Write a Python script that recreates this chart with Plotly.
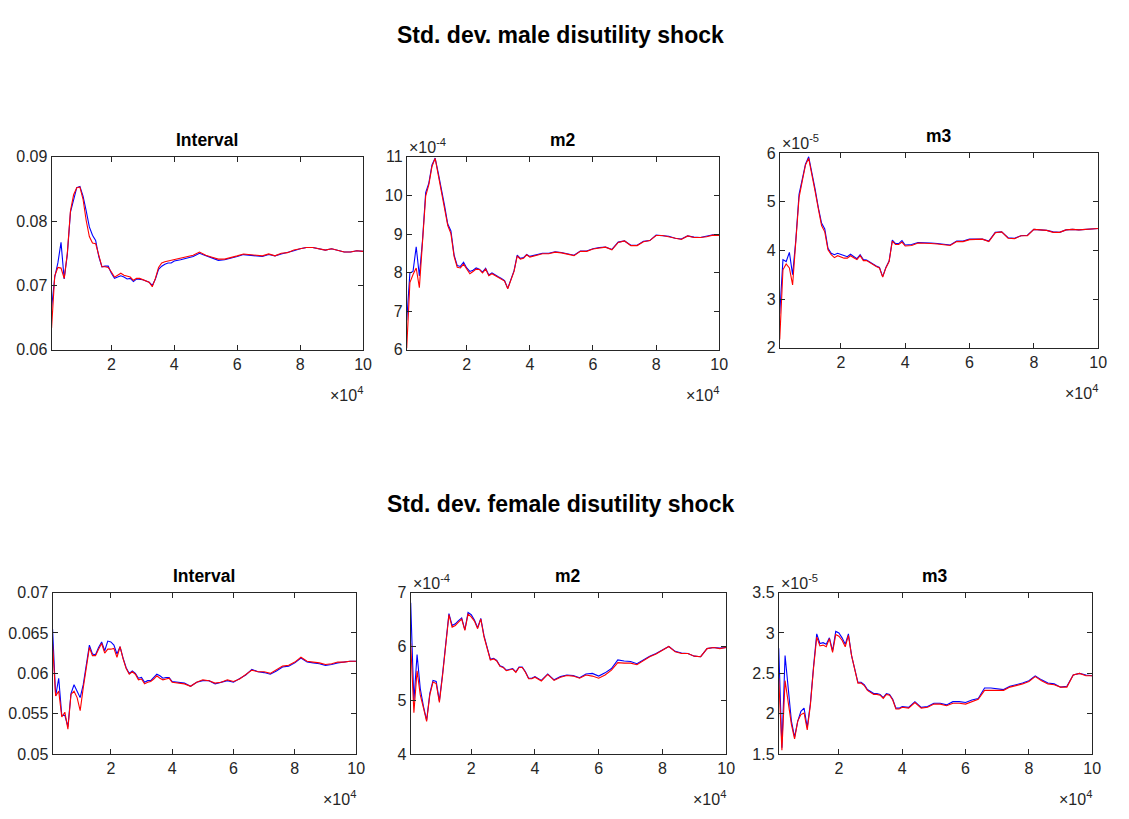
import plotly.graph_objects as go

# ---------------- data ----------------
X = list(range(1000, 40001, 1000)) + list(range(42000, 100001, 2000))
X_TICKVALS = [20000, 40000, 60000, 80000, 100000]
X_TICKTEXT = ["2", "4", "6", "8", "10"]

MAIN_TITLES = ["Std. dev. male disutility shock", "Std. dev. female disutility shock"]
PANEL_TITLES = ["Interval", "m2", "m3", "Interval", "m2", "m3"]

# Male, Interval
male_interval_blue = [
    0.0665, 0.0713, 0.0735, 0.0767, 0.0710, 0.0748, 0.0814, 0.0831, 0.0852, 0.0854,
    0.0839, 0.0816, 0.0791, 0.0778, 0.0770, 0.0745, 0.0729, 0.0730, 0.0730, 0.0719,
    0.0711, 0.0713, 0.0715, 0.0713, 0.0710, 0.0711, 0.0706, 0.0710, 0.0710, 0.0709,
    0.0707, 0.0705, 0.0700, 0.0710, 0.0725, 0.0730, 0.0733, 0.0735, 0.0735, 0.0738,
    0.0740, 0.0743, 0.0745, 0.0750, 0.0746, 0.0743, 0.0739, 0.0740, 0.0742, 0.0745,
    0.0748, 0.0747, 0.0747, 0.0745, 0.0748, 0.0746, 0.0749, 0.0751, 0.0754, 0.0757,
    0.0759, 0.0759, 0.0757, 0.0755, 0.0757, 0.0754, 0.0752, 0.0752, 0.0754, 0.0753]
male_interval_red = [
    0.0634, 0.0715, 0.0728, 0.0727, 0.0711, 0.0750, 0.0816, 0.0841, 0.0852, 0.0853,
    0.0834, 0.0801, 0.0776, 0.0766, 0.0765, 0.0745, 0.0729, 0.0729, 0.0728, 0.0721,
    0.0713, 0.0716, 0.0719, 0.0716, 0.0714, 0.0713, 0.0708, 0.0711, 0.0711, 0.0709,
    0.0707, 0.0705, 0.0698, 0.0711, 0.0728, 0.0735, 0.0737, 0.0738, 0.0739, 0.0740,
    0.0742, 0.0745, 0.0747, 0.0752, 0.0747, 0.0744, 0.0741, 0.0741, 0.0743, 0.0746,
    0.0749, 0.0748, 0.0747, 0.0746, 0.0749, 0.0746, 0.0750, 0.0751, 0.0755, 0.0757,
    0.0759, 0.0759, 0.0757, 0.0755, 0.0757, 0.0754, 0.0752, 0.0752, 0.0754, 0.0753]

# Male, m2 (units of 1e-4)
male_m2_blue = [
    6.76, 7.99, 8.03, 8.67, 7.91, 8.84, 10.07, 10.32, 10.79, 10.97,
    10.58, 10.19, 9.73, 9.26, 9.08, 8.46, 8.18, 8.16, 8.27, 8.12,
    8.03, 8.06, 8.12, 8.09, 8.01, 8.11, 7.94, 7.99, 7.93, 7.89,
    7.85, 7.79, 7.59, 7.83, 8.05, 8.45, 8.37, 8.39, 8.47, 8.42,
    8.45, 8.50, 8.50, 8.54, 8.52, 8.48, 8.45, 8.56, 8.56, 8.62,
    8.65, 8.66, 8.60, 8.79, 8.82, 8.71, 8.71, 8.81, 8.83, 8.97,
    8.96, 8.94, 8.89, 8.87, 8.95, 8.92, 8.91, 8.94, 8.98, 8.97]
male_m2_red = [
    6.04, 7.74, 7.95, 8.12, 7.61, 8.67, 9.98, 10.28, 10.75, 10.96,
    10.53, 10.11, 9.69, 9.22, 9.01, 8.42, 8.14, 8.12, 8.22, 8.08,
    7.97, 8.03, 8.09, 8.08, 7.99, 8.09, 7.92, 7.97, 7.92, 7.88,
    7.84, 7.78, 7.58, 7.82, 8.03, 8.43, 8.35, 8.37, 8.46, 8.40,
    8.44, 8.49, 8.49, 8.53, 8.51, 8.47, 8.44, 8.55, 8.55, 8.61,
    8.64, 8.66, 8.59, 8.78, 8.82, 8.70, 8.70, 8.80, 8.83, 8.96,
    8.96, 8.93, 8.88, 8.86, 8.95, 8.91, 8.91, 8.93, 8.97, 8.96]

# Male, m3 (units of 1e-5)
male_m3_blue = [
    2.70, 3.81, 3.77, 3.96, 3.50, 4.21, 5.15, 5.45, 5.77, 5.92,
    5.62, 5.26, 4.88, 4.56, 4.44, 4.04, 3.94, 3.91, 3.94, 3.92,
    3.89, 3.87, 3.92, 3.87, 3.83, 3.91, 3.81, 3.80, 3.76, 3.71,
    3.68, 3.65, 3.46, 3.65, 3.78, 4.21, 4.14, 4.14, 4.20, 4.11,
    4.12, 4.16, 4.16, 4.15, 4.14, 4.12, 4.11, 4.19, 4.19, 4.23,
    4.23, 4.23, 4.19, 4.37, 4.38, 4.26, 4.25, 4.30, 4.31, 4.43,
    4.42, 4.41, 4.38, 4.37, 4.42, 4.43, 4.42, 4.43, 4.45, 4.45]
male_m3_red = [
    2.17, 3.60, 3.72, 3.64, 3.29, 4.11, 5.08, 5.42, 5.75, 5.89,
    5.58, 5.21, 4.85, 4.51, 4.38, 4.01, 3.91, 3.85, 3.89, 3.87,
    3.84, 3.84, 3.89, 3.85, 3.81, 3.89, 3.79, 3.79, 3.75, 3.70,
    3.67, 3.64, 3.45, 3.64, 3.77, 4.19, 4.12, 4.12, 4.17, 4.09,
    4.10, 4.15, 4.15, 4.14, 4.13, 4.11, 4.10, 4.18, 4.18, 4.22,
    4.22, 4.23, 4.18, 4.36, 4.38, 4.25, 4.24, 4.30, 4.30, 4.43,
    4.42, 4.41, 4.37, 4.37, 4.42, 4.43, 4.42, 4.43, 4.45, 4.45]

# Female, Interval
female_interval_blue = [
    0.0655, 0.0572, 0.0594, 0.0548, 0.0548, 0.0534, 0.0575, 0.0586, 0.0578, 0.0570,
    0.0586, 0.0612, 0.0635, 0.0624, 0.0623, 0.0632, 0.0639, 0.0628, 0.0640, 0.0639,
    0.0635, 0.0624, 0.0633, 0.0619, 0.0607, 0.0600, 0.0603, 0.0600, 0.0594, 0.0595,
    0.0589, 0.0591, 0.0591, 0.0595, 0.0599, 0.0597, 0.0594, 0.0595, 0.0595, 0.0590,
    0.0589, 0.0588, 0.0584, 0.0589, 0.0591, 0.0591, 0.0587, 0.0589, 0.0591, 0.0589,
    0.0593, 0.0598, 0.0605, 0.0602, 0.0601, 0.0599, 0.0603, 0.0608, 0.0609, 0.0613,
    0.0619, 0.0614, 0.0613, 0.0612, 0.0610, 0.0611, 0.0613, 0.0614, 0.0615, 0.0615]
female_interval_red = [
    0.0636, 0.0572, 0.0578, 0.0546, 0.0552, 0.0531, 0.0574, 0.0578, 0.0570, 0.0554,
    0.0582, 0.0610, 0.0632, 0.0622, 0.0622, 0.0630, 0.0637, 0.0625, 0.0630, 0.0630,
    0.0631, 0.0620, 0.0633, 0.0618, 0.0606, 0.0599, 0.0602, 0.0599, 0.0592, 0.0593,
    0.0587, 0.0589, 0.0590, 0.0593, 0.0597, 0.0594, 0.0592, 0.0593, 0.0594, 0.0589,
    0.0588, 0.0587, 0.0584, 0.0589, 0.0592, 0.0591, 0.0588, 0.0589, 0.0592, 0.0590,
    0.0593, 0.0598, 0.0604, 0.0602, 0.0602, 0.0600, 0.0604, 0.0609, 0.0610, 0.0614,
    0.0620, 0.0615, 0.0614, 0.0613, 0.0611, 0.0612, 0.0614, 0.0614, 0.0615, 0.0615]

# Female, m2 (units of 1e-4)
female_m2_blue = [
    6.81, 4.98, 5.85, 5.22, 4.89, 4.63, 5.13, 5.37, 5.35, 4.99,
    5.49, 6.09, 6.61, 6.39, 6.42, 6.48, 6.53, 6.31, 6.63, 6.59,
    6.49, 6.35, 6.52, 6.20, 5.96, 5.76, 5.78, 5.74, 5.64, 5.62,
    5.56, 5.58, 5.59, 5.53, 5.62, 5.62, 5.53, 5.41, 5.41, 5.44,
    5.37, 5.49, 5.38, 5.44, 5.47, 5.46, 5.42, 5.49, 5.50, 5.45,
    5.51, 5.59, 5.75, 5.73, 5.72, 5.68, 5.75, 5.82, 5.87, 5.94,
    6.00, 5.91, 5.88, 5.87, 5.82, 5.81, 5.96, 5.98, 5.97, 5.98]
female_m2_red = [
    6.06, 4.77, 5.55, 5.10, 4.86, 4.61, 5.10, 5.34, 5.31, 4.96,
    5.46, 6.06, 6.59, 6.36, 6.39, 6.45, 6.51, 6.30, 6.60, 6.55,
    6.47, 6.33, 6.51, 6.18, 5.95, 5.75, 5.77, 5.73, 5.63, 5.61,
    5.55, 5.57, 5.58, 5.52, 5.61, 5.61, 5.52, 5.40, 5.40, 5.43,
    5.36, 5.48, 5.37, 5.43, 5.46, 5.45, 5.41, 5.47, 5.45, 5.41,
    5.47, 5.56, 5.70, 5.69, 5.69, 5.66, 5.73, 5.81, 5.86, 5.93,
    6.00, 5.90, 5.87, 5.87, 5.82, 5.81, 5.96, 5.98, 5.96, 5.98]

# Female, m3 (units of 1e-5)
female_m3_blue = [
    2.81, 1.58, 2.72, 2.31, 1.91, 1.71, 1.91, 2.03, 2.07, 1.83,
    2.13, 2.59, 2.99, 2.87, 2.88, 2.86, 2.94, 2.78, 3.02, 3.00,
    2.94, 2.86, 2.99, 2.72, 2.56, 2.39, 2.39, 2.36, 2.30, 2.27,
    2.25, 2.25, 2.24, 2.20, 2.25, 2.24, 2.18, 2.07, 2.07, 2.09,
    2.08, 2.15, 2.08, 2.09, 2.13, 2.13, 2.11, 2.15, 2.15, 2.14,
    2.17, 2.19, 2.32, 2.32, 2.31, 2.30, 2.34, 2.36, 2.38, 2.41,
    2.47, 2.42, 2.38, 2.37, 2.33, 2.34, 2.48, 2.50, 2.48, 2.47]
female_m3_red = [
    2.44, 1.55, 2.41, 2.13, 1.87, 1.69, 1.91, 1.99, 2.01, 1.80,
    2.11, 2.57, 2.95, 2.84, 2.85, 2.83, 2.93, 2.76, 2.98, 2.96,
    2.91, 2.83, 2.97, 2.72, 2.55, 2.38, 2.38, 2.35, 2.29, 2.26,
    2.24, 2.24, 2.23, 2.19, 2.24, 2.23, 2.17, 2.06, 2.06, 2.08,
    2.07, 2.14, 2.07, 2.08, 2.12, 2.12, 2.10, 2.13, 2.13, 2.12,
    2.15, 2.18, 2.29, 2.29, 2.29, 2.29, 2.33, 2.35, 2.37, 2.40,
    2.46, 2.41, 2.37, 2.36, 2.33, 2.33, 2.48, 2.50, 2.47, 2.47]

# y-axis ticks per panel
Y_TICKS = [
    [0.06, 0.07, 0.08, 0.09],
    [6, 7, 8, 9, 10, 11],
    [2, 3, 4, 5, 6],
    [0.05, 0.055, 0.06, 0.065, 0.07],
    [4, 5, 6, 7],
    [1.5, 2, 2.5, 3, 3.5],
]
Y_TICKTEXT = [
    ["0.06", "0.07", "0.08", "0.09"],
    ["6", "7", "8", "9", "10", "11"],
    ["2", "3", "4", "5", "6"],
    ["0.05", "0.055", "0.06", "0.065", "0.07"],
    ["4", "5", "6", "7"],
    ["1.5", "2", "2.5", "3", "3.5"],
]
Y_EXPONENT = [None, "-4", "-5", None, "-4", "-5"]

SERIES = [
    (male_interval_blue, male_interval_red),
    (male_m2_blue, male_m2_red),
    (male_m3_blue, male_m3_red),
    (female_interval_blue, female_interval_red),
    (female_m2_blue, female_m2_red),
    (female_m3_blue, female_m3_red),
]

# ---------------- layout geometry (pixels) ----------------
W, H = 1129, 819
BOXES = [  # left, right, top, bottom
    (52, 366, 152, 349),
    (410, 725, 152, 349),
    (786, 1107, 148, 347),
    (53, 359, 597, 762),
    (414, 732, 597, 762),
    (785, 1101, 597, 762),
]

def px_x(p):
    return p / W

def px_y(p):
    return 1 - p / H

FONT = "Liberation Sans, Arial, Helvetica, sans-serif"
AX_COLOR = "#262626"
TICK_SIZE = 16

fig = go.Figure()
layout = dict(
    width=W, height=H,
    margin=dict(l=0, r=0, t=0, b=0),
    paper_bgcolor="white", plot_bgcolor="white",
    showlegend=False,
    font=dict(family=FONT, size=TICK_SIZE, color=AX_COLOR),
)
annotations = []

for i, ((blue, red), box) in enumerate(zip(SERIES, BOXES)):
    n = i + 1
    xa = "x" if n == 1 else f"x{n}"
    ya = "y" if n == 1 else f"y{n}"
    fig.add_trace(go.Scatter(x=X, y=blue, mode="lines", xaxis=xa, yaxis=ya,
                             line=dict(color="#0000ff", width=1.1)))
    fig.add_trace(go.Scatter(x=X, y=red, mode="lines", xaxis=xa, yaxis=ya,
                             line=dict(color="#ff0000", width=1.1)))
    l, r, t, b = box
    common = dict(showline=True, linecolor=AX_COLOR, linewidth=1, mirror="ticks",
                  ticks="inside", ticklen=5, tickcolor=AX_COLOR, tickwidth=1,
                  showgrid=False, zeroline=False,
                  tickfont=dict(family=FONT, size=TICK_SIZE, color=AX_COLOR))
    layout["xaxis" if n == 1 else f"xaxis{n}"] = dict(
        domain=[px_x(l), px_x(r)], anchor=ya, range=[1000, 100000],
        tickvals=X_TICKVALS, ticktext=X_TICKTEXT, **common)
    yt = Y_TICKS[i]
    layout["yaxis" if n == 1 else f"yaxis{n}"] = dict(
        domain=[px_y(b), px_y(t)], anchor=xa, range=[yt[0], yt[-1]],
        tickvals=yt, ticktext=Y_TICKTEXT[i], **common)
    # panel title
    annotations.append(dict(text=f"<b>{PANEL_TITLES[i]}</b>", xref="paper", yref="paper",
                            x=px_x((l + r) / 2), y=px_y(t - 17), xanchor="center",
                            yanchor="middle", showarrow=False,
                            font=dict(family=FONT, size=17.5, color="black")))
    # x exponent
    annotations.append(dict(text="×10<sup>4</sup>", xref="paper", yref="paper",
                            x=px_x(r + 2), y=px_y(b + 45), xanchor="right",
                            yanchor="middle", showarrow=False,
                            font=dict(family=FONT, size=TICK_SIZE, color=AX_COLOR)))
    if Y_EXPONENT[i]:
        annotations.append(dict(text=f"×10<sup>{Y_EXPONENT[i]}</sup>", xref="paper",
                                yref="paper", x=px_x(l), y=px_y(t - 11),
                                xanchor="left", yanchor="middle", showarrow=False,
                                font=dict(family=FONT, size=TICK_SIZE, color=AX_COLOR)))

for title, ypix in zip(MAIN_TITLES, [28, 507]):
    annotations.append(dict(text=f"<b>{title}</b>", xref="paper", yref="paper",
                            x=px_x(565), y=px_y(ypix), xanchor="center", yanchor="middle",
                            showarrow=False, font=dict(family=FONT, size=23, color="black")))

layout["annotations"] = annotations
fig.update_layout(**layout)
fig.write_html("out.html")
